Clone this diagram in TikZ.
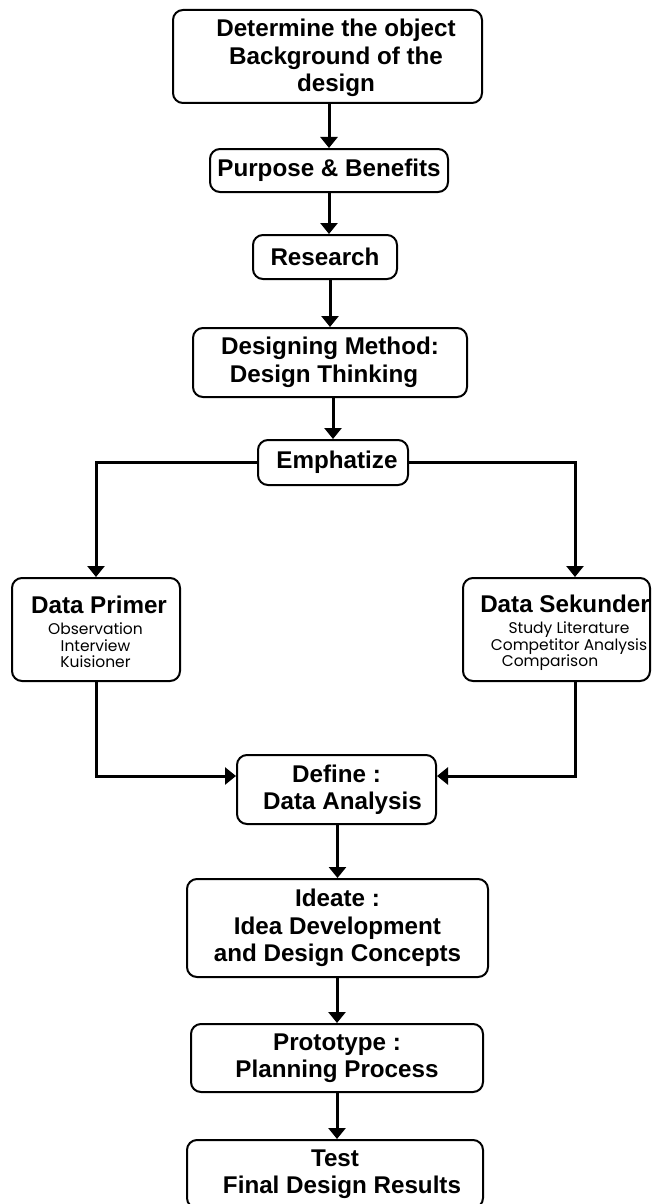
\documentclass[tikz,border=0pt]{standalone}
\usepackage{fontspec}
\setmainfont{Liberation Sans}
\newfontfamily\listfont{Poppins}
\usetikzlibrary{arrows.meta}
\begin{document}
\begin{tikzpicture}[x=1pt,y=-1pt,
  box/.style={draw, line width=2pt, rounded corners=10pt, inner sep=0pt},
  title/.style={font=\bfseries\fontsize{24.2}{27.5}\selectfont, align=center, inner sep=0pt},
  items/.style={font=\listfont\fontsize{15.5}{16.5}\selectfont, align=center, inner sep=0pt},
  arr/.style={line width=3pt, -{Triangle[width=17pt,length=11pt]}}]
\clip (0,0) rectangle (651,1204);

% main column
\node[box, minimum width=309pt, minimum height=93pt] (bg) at (327.5,56.5) {};
\node[title] (bgtext) at (336,58) {Determine the object\\Background of the\\design};
\node[box, title, minimum width=238pt, minimum height=43pt] (purpose) at (329,170.5) {Purpose \& Benefits};
\node[box, title, minimum width=144pt, minimum height=44pt] (research) at (325,257) {Research};
\node[box, title, minimum width=274pt, minimum height=69pt] (method) at (330,362.5) {Designing Method:\\Design Thinking\hspace*{12pt}};
\node[box, title, minimum width=150pt, minimum height=45pt] (emph) at (333,462.5) {\hspace*{8pt}Emphatize};

% data sources
\node[box, minimum width=168pt, minimum height=103pt] (primer) at (96,629.5) {};
\node[title, anchor=base] (primtitle) at (99,613) {Data Primer};
\node[items, anchor=north] (primlist) at (95.5,622.5) {Observation\\Interview\\Kuisioner};
\node[box, minimum width=187pt, minimum height=103pt] (sekunder) at (556.5,629.5) {};
\node[title, anchor=base] (sektitle) at (565,612) {Data Sekunder};
\node[items, anchor=north] (seklist) at (569,621.5) {Study Literature\\Competitor Analysis\\Comparison\hspace*{38pt}};

% design thinking stages
\node[box, title, minimum width=199pt, minimum height=69pt] (define) at (336.5,789.5) {Define :\\\hspace*{12pt}Data Analysis};
\node[box, title, minimum width=301pt, minimum height=98pt] (ideate) at (337.5,928) {Ideate :\\Idea Development\\and Design Concepts};
\node[box, title, minimum width=292pt, minimum height=68pt] (proto) at (337,1058) {Prototype :\\Planning Process};
\node[box, title, minimum width=296pt, minimum height=68pt] (test) at (335,1174) {Test\\\hspace*{14pt}Final Design Results};

% connectors
\draw[arr] (bg.south -| purpose.north) -- (purpose.north);
\draw[arr] (purpose.south) -- (purpose.south |- research.north);
\draw[arr] (research.south -| method.north) -- (method.north);
\draw[arr] (method.south -| emph.north) -- (emph.north);
\coordinate (sekin) at ([xshift=18.5pt]sekunder.north);
\coordinate (defl) at ([yshift=13.5pt]define.west);
\draw[arr] (emph.west) -| (primer.north);
\draw[arr] (emph.east) -| (sekin);
\draw[arr] (primer.south) |- (defl);
\draw[arr] (sekin |- sekunder.south) |- (defl -| define.east);
\draw[arr] (define.south -| ideate.north) -- (ideate.north);
\draw[arr] (ideate.south -| proto.north) -- (proto.north);
\draw[arr] (proto.south) -- (proto.south |- test.north);
\end{tikzpicture}
\end{document}
